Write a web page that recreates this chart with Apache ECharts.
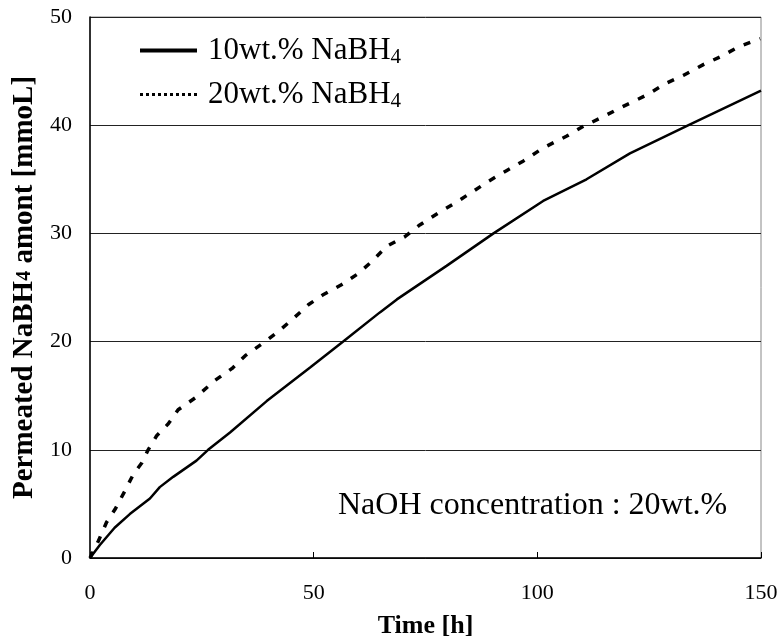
<!DOCTYPE html>
<html>
<head>
<meta charset="utf-8">
<script src="https://cdn.jsdelivr.net/npm/echarts@6/dist/echarts.min.js"></script>
<style>
html,body{margin:0;padding:0;background:#fff;}
#chartDiv{width:781px;height:644px;}
</style>
</head>
<body>
<div id="chartDiv"></div>
<script>
// 10wt.% NaBH4 (solid)
var time10 = [0, 2.2, 5.5, 8.9, 13.4, 15.6, 18.6, 23.8, 26.4, 31.3, 39.5, 49.2, 56.6, 64.8, 68.6, 79.7, 90.2, 101.3, 111, 120.7, 133.8, 150];
var amount10 = [0, 1.2, 2.8, 4.06, 5.5, 6.55, 7.5, 9.0, 10.0, 11.6, 14.5, 17.6, 20.0, 22.7, 23.9, 27.0, 30.0, 33.0, 35.0, 37.4, 40.0, 43.2];
// 20wt.% NaBH4 (dotted)
var time20 = [0, 1.9, 3.7, 5.6, 7.8, 9.7, 11.6, 13.0, 14.9, 17.5, 19.7, 23.5, 27.9, 31.7, 34.7, 38.8, 41.7, 45.1, 48.8, 52, 56, 60, 63, 66.3, 70.4, 73.8, 77.9, 81.6, 85.7, 89.0, 93.1, 96.9, 101.3, 106.6, 110.3, 114.8, 118.5, 124.5, 128.9, 132.6, 137.1, 140.8, 145.3, 149.8];
var amount20 = [0, 1.6, 3.3, 4.5, 6.2, 7.75, 8.8, 10.0, 11.3, 12.4, 13.7, 14.8, 16.4, 17.5, 18.7, 19.9, 20.8, 22.0, 23.4, 24.3, 25.2, 26.3, 27.4, 28.8, 29.7, 30.8, 31.9, 32.8, 33.9, 34.8, 35.8, 36.7, 37.9, 39.0, 39.9, 40.8, 41.6, 42.8, 43.9, 44.6, 45.6, 46.3, 47.3, 48.0];
var xTicks = [0, 50, 100, 150];
var yTicks = [0, 10, 20, 30, 40, 50];

var font = 'Liberation Serif, Times New Roman, serif';
var chart = echarts.init(document.getElementById('chartDiv'));

function pairs(xs, ys){
    var out = [];
    for (var i = 0; i < xs.length; i++) out.push([xs[i], ys[i]]);
    return out;
}

var option = {
    animation: false,
    backgroundColor: '#fff',
    grid: {
        left: 90, right: 20, top: 17, bottom: 84,
        show: true, borderColor: '#888', borderWidth: 1
    },
    title: {
        text: 'NaOH concentration : 20wt.%',
        left: 333, top: 485,
        textStyle: {fontFamily: font, fontSize: 32, fontWeight: 'normal', color: '#000'}
    },
    legend: {
        orient: 'vertical',
        left: 133, top: 30,
        itemWidth: 57, itemHeight: 14, itemGap: 11,
        textStyle: {
            fontFamily: font, fontSize: 31, color: '#000', padding: [0, 0, 0, 6],
            rich: {
                sub: {fontFamily: font, fontSize: 21, verticalAlign: 'bottom', padding: [14, 0, 0, 0]}
            }
        },
        formatter: function (name) {
            return name.replace('NaBH4', 'NaBH{sub|4}');
        },
        data: [
            {name: '10wt.% NaBH4', itemStyle: {color: 'rgba(0,0,0,0)', borderWidth: 0}, lineStyle: {type: 'solid', width: 4, color: '#000'}},
            {name: '20wt.% NaBH4', itemStyle: {color: 'rgba(0,0,0,0)', borderWidth: 0}, lineStyle: {type: 'dotted', width: 3, color: '#000'}}
        ]
    },
    xAxis: {
        type: 'value',
        min: xTicks[0], max: xTicks[xTicks.length - 1], interval: 50,
        name: 'Time [h]',
        nameLocation: 'middle', nameGap: 55,
        nameTextStyle: {fontFamily: font, fontSize: 26, fontWeight: 'bold', color: '#000'},
        axisLine: {show: true, lineStyle: {color: '#000', width: 1.5}},
        axisTick: {show: true, inside: true, length: 6, lineStyle: {color: '#000'}},
        axisLabel: {fontFamily: font, fontSize: 22, color: '#000', margin: 24},
        splitLine: {show: false}
    },
    yAxis: {
        type: 'value',
        min: yTicks[0], max: yTicks[yTicks.length - 1], interval: 10,
        name: 'Permeated NaBH{sub|4} amont [mmoL]',
        nameLocation: 'middle', nameGap: 50, nameRotate: 90,
        nameTextStyle: {
            fontFamily: font, fontSize: 29, fontWeight: 'bold', color: '#000',
            rich: {sub: {fontFamily: font, fontSize: 20, fontWeight: 'bold'}}
        },
        axisLine: {show: true, lineStyle: {color: '#000', width: 1.5}},
        axisTick: {show: false},
        axisLabel: {fontFamily: font, fontSize: 22, color: '#000', margin: 18},
        splitLine: {show: true, lineStyle: {color: '#222', width: 1}}
    },
    series: [
        {
            name: '10wt.% NaBH4',
            type: 'line',
            symbol: 'none',
            data: pairs(time10, amount10),
            lineStyle: {color: '#000', width: 2.5},
            itemStyle: {color: '#000'},
            z: 3
        },
        {
            name: '20wt.% NaBH4',
            type: 'line',
            symbol: 'none',
            data: pairs(time20, amount20),
            lineStyle: {color: '#000', width: 3.5, type: [7, 10]},
            itemStyle: {color: '#000'},
            z: 3
        }
    ]
};
chart.setOption(option);
</script>
</body>
</html>
